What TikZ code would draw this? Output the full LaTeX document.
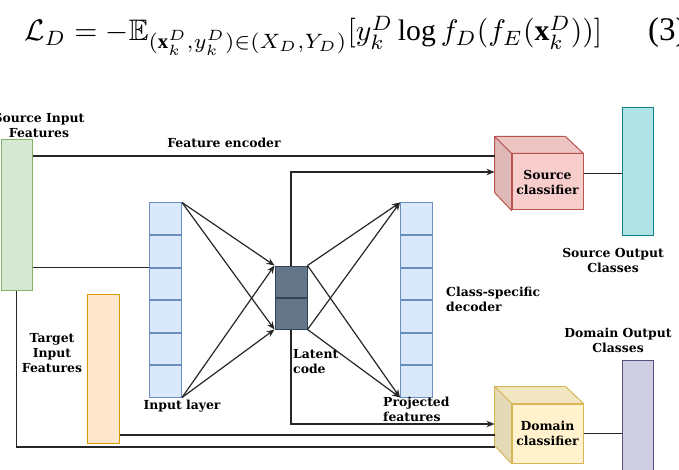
\documentclass[tikz,border=0pt]{standalone}
\usepackage{amsmath,amssymb}
\usepackage{graphicx}
\usepackage{fontspec}
\setmainfont{Liberation Serif}
\newfontfamily\lblfont{DejaVu Serif}
\usetikzlibrary{arrows.meta,positioning}
\definecolor{grnfill}{HTML}{D5E8D4}\definecolor{grndraw}{HTML}{82B366}
\definecolor{orgfill}{HTML}{FFE6CC}\definecolor{orgdraw}{HTML}{D79B00}
\definecolor{blufill}{HTML}{DAE8FC}\definecolor{bludraw}{HTML}{6C8EBF}
\definecolor{latfill}{HTML}{647687}\definecolor{latdraw}{HTML}{314354}
\definecolor{redfill}{HTML}{F8CECC}\definecolor{reddraw}{HTML}{B85450}
\definecolor{yelfill}{HTML}{FFF2CC}\definecolor{yeldraw}{HTML}{D6B656}
\definecolor{tealfill}{HTML}{B0E3E6}\definecolor{tealdraw}{HTML}{0E8088}
\definecolor{purfill}{HTML}{D0CEE2}\definecolor{purdraw}{HTML}{56517E}

\begin{document}
\begin{tikzpicture}[x=1pt, y=-1pt,
  lbl/.style={font=\lblfont\bfseries\fontsize{12.4}{15}\selectfont, align=center, inner sep=0pt},
  bar/.style={draw, line width=1pt, minimum width=31pt, inner sep=0pt},
  cell/.style={draw=bludraw, fill=blufill, line width=1pt, minimum width=32pt,
               minimum height=31.5pt, inner sep=0pt},
  lcell/.style={draw=latdraw, fill=latfill, line width=1pt, minimum width=32pt,
                minimum height=31pt, inner sep=0pt},
  cube/.style={draw, line width=1pt, minimum width=71pt, inner sep=0pt,
               font=\lblfont\bfseries\fontsize{12.4}{15}\selectfont, align=center},
  ln/.style={line width=1.2pt, black!85},
  arr/.style={-{Stealth[length=8pt,width=6.5pt]}, line width=1.2pt, black!85}]
  \clip (0,0) rectangle (679,470);

  \node[anchor=base west, inner sep=0pt] (eqn) at (24,41)
    {\resizebox{578pt}{!}{$\mathcal{L}_D = -\mathbb{E}_{(\mathbf{x}_k^D,y_k^D)\in(X_D,Y_D)}[y_k^D \log f_D(f_E(\mathbf{x}_k^D))]$}};
  \node[anchor=base west, inner sep=0pt] (eqnum) at (648,41) {\fontsize{33}{40}\selectfont (3)};

  \node[bar, draw=grndraw, fill=grnfill, minimum width=31pt, minimum height=150pt] (src) at (16.5,215) {};
  \node[bar, draw=orgdraw, fill=orgfill, minimum width=32pt, minimum height=149pt] (tgt) at (103,368.5) {};
  \node[bar, draw=tealdraw, fill=tealfill, minimum height=127pt] (srcout) at (637.5,171.5) {};
  \node[bar, draw=purdraw, fill=purfill, minimum height=130pt] (domout) at (637.5,425) {};

  \node[cell] (in1) at (165.5,218.75) {};
  \foreach \i [count=\j from 2] in {1,...,5}
    \node[cell, below=0pt of in\i] (in\j) {};
  \node[cell] (pr1) at (416.5,218.75) {};
  \foreach \i [count=\j from 2] in {1,...,5}
    \node[cell, below=0pt of pr\i] (pr\j) {};
  \node[lcell] (lat1) at (291,281.5) {};
  \node[lcell, below=0pt of lat1] (lat2) {};

  \node[cube, draw=reddraw, fill=redfill, minimum height=56pt] (scls) at (547.5,182) {Source\\classifier};
  \fill[redfill!95!black, draw=reddraw, line width=1pt, line join=round]
    (scls.north west) -- ++(-17,-17) -- ++(71,0) -- (scls.north east) -- cycle;
  \fill[redfill!90!black, draw=reddraw, line width=1pt, line join=round]
    (scls.north west) -- ++(-17,-17) -- ++(0,56) -- (scls.south west) -- cycle;
  \node[cube, draw=yeldraw, fill=yelfill, minimum height=59pt] (dcls) at (547.5,433.5) {Domain\\classifier};
  \fill[yelfill!95!black, draw=yeldraw, line width=1pt, line join=round]
    (dcls.north west) -- ++(-17,-17) -- ++(71,0) -- (dcls.north east) -- cycle;
  \fill[yelfill!90!black, draw=yeldraw, line width=1pt, line join=round]
    (dcls.north west) -- ++(-17,-17) -- ++(0,59) -- (dcls.south west) -- cycle;

  \coordinate (sin1) at ([xshift=-17pt,yshift=26pt]scls.west);
  \coordinate (sin2) at ([xshift=-17pt,yshift=10pt]scls.west);
  \coordinate (sout) at ([yshift=8.5pt]scls.east);
  \coordinate (din1) at ([xshift=-17pt,yshift=9.5pt]dcls.west);
  \coordinate (din2) at ([xshift=-17pt,yshift=-1.5pt]dcls.west);
  \coordinate (din3) at ([xshift=-17pt,yshift=-13.5pt]dcls.west);

  \draw[ln] (src.east |- sin1) -- (sin1);
  \draw[ln] (src.east |- in3.north west) -- (in3.north west);
  \draw[arr] (lat1.north) |- (sin2);
  \draw[arr] (lat2.south) |- (din1);
  \draw[ln] (tgt.east |- din2) -- (din2);
  \draw[ln] (src.south) |- (din3);
  \draw[ln] (sout) -- (sout -| srcout.west);
  \draw[ln] (dcls.east) -- (dcls.east -| domout.west);
  \foreach \a in {in1.north east, in6.south east}
    \foreach \b in {lat1.north west, lat2.south west}
      \draw[arr] (\a) -- (\b);
  \foreach \a in {lat1.north east, lat2.south east}
    \foreach \b in {pr1.north west, pr6.south west}
      \draw[arr] (\a) -- (\b);

  \node[lbl] (srclbl) at (39,125.5) {Source Input\\Features};
  \node[lbl] (enclbl) at (224,143) {Feature encoder};
  \node[lbl] (tgtlbl) at (52,353.5) {Target\\Input\\Features};
  \node[lbl] (inlbl) at (182,406) {Input layer};
  \node[lbl, anchor=west, align=left] (latlbl) at (293,362) {Latent\\code};
  \node[lbl, anchor=west, align=left] (prlbl) at (383,409.5) {Projected\\features};
  \node[lbl, anchor=west, align=left] (declbl) at (446,299.5) {Class-specific\\decoder};
  \node[lbl] (soutlbl) at (613,260.5) {Source Output\\Classes};
  \node[lbl] (doutlbl) at (618,340.5) {Domain Output\\Classes};
\end{tikzpicture}
\end{document}
